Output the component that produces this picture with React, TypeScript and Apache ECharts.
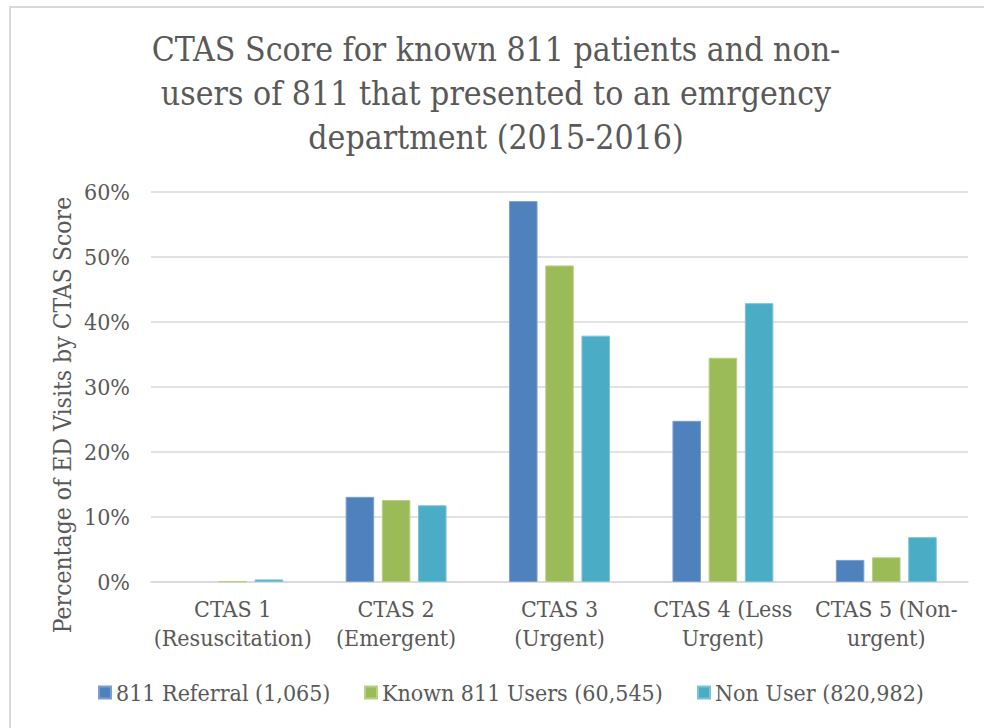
import React, { useEffect, useRef } from "react";
import * as echarts from "echarts";

const categories = [
  "CTAS 1\n(Resuscitation)",
  "CTAS 2\n(Emergent)",
  "CTAS 3\n(Urgent)",
  "CTAS 4 (Less\nUrgent)",
  "CTAS 5 (Non-\nurgent)",
];
const seriesNames = ["811 Referral (1,065)", "Known 811 Users (60,545)", "Non User (820,982)"];
const referral = [0, 13.1, 58.6, 24.8, 3.4];
const knownUsers = [0.1, 12.6, 48.7, 34.5, 3.8];
const nonUsers = [0.4, 11.8, 37.9, 42.9, 6.9];
const colors = ["#4f81bd", "#9bbb59", "#4bacc6"];
const borderColors = ["#7c9fd0", "#b7cf86", "#7cc3d6"];

const FONT = "'DejaVu Serif Condensed', 'Liberation Serif', serif";
const TEXT = "#595959";

export default function App() {
  const ref = useRef<HTMLDivElement>(null);
  useEffect(() => {
    if (!ref.current) return;
    const chart = echarts.init(ref.current, undefined, { renderer: "svg" });
    const dataSets = [referral, knownUsers, nonUsers];
    const legendLefts = [98, 364, 697];
    chart.setOption({
      animation: false,
      backgroundColor: "#ffffff",
      textStyle: { fontFamily: FONT },
      title: {
        text: "CTAS Score for known 811 patients and non-\nusers of 811 that presented to an emrgency\ndepartment (2015-2016)",
        left: 496,
        top: 27,
        textAlign: "center",
        padding: 0,
        textStyle: {
          fontFamily: FONT,
          fontSize: 33.5,
          fontWeight: "normal",
          color: TEXT,
          lineHeight: 44,
        },
      },
      legend: seriesNames.map((n, i) => ({
        data: [n],
        left: legendLefts[i],
        top: 681,
        padding: 0,
        itemWidth: 12,
        itemHeight: 12,
        icon: "rect",
        selectedMode: false,
        textStyle: { fontFamily: FONT, fontSize: 23, color: TEXT },
      })),
      graphic: [
        {
          type: "rect",
          shape: { x: 10, y: 7, width: 1000, height: 800 },
          style: { fill: "none", stroke: "#d9d9d9", lineWidth: 2 },
          silent: true,
        },
        {
          type: "text",
          x: 62,
          y: 415,
          rotation: Math.PI / 2,
          style: {
            text: "Percentage of ED Visits by CTAS Score",
            fontFamily: FONT,
            fontSize: 24.5,
            fill: TEXT,
            align: "center",
            verticalAlign: "middle",
          },
          silent: true,
        },
      ],
      grid: { left: 151, right: 16, top: 192, bottom: 146 },
      xAxis: {
        type: "category",
        data: categories,
        axisTick: { show: false },
        axisLine: { lineStyle: { color: "#d9d9d9", width: 1.5 } },
        axisLabel: {
          color: TEXT,
          fontFamily: FONT,
          fontSize: 23,
          lineHeight: 29,
          margin: 12,
          interval: 0,
        },
      },
      yAxis: {
        type: "value",
        min: 0,
        max: 60,
        interval: 10,
        axisLine: { show: false },
        axisTick: { show: false },
        splitLine: { lineStyle: { color: "#d9d9d9", width: 1.5 } },
        axisLabel: {
          color: TEXT,
          fontFamily: FONT,
          fontSize: 23,
          margin: 21,
          formatter: "{value}%",
        },
      },
      series: seriesNames.map((n, i) => ({
        name: n,
        type: "bar",
        data: dataSets[i].map((v) =>
          v === 0 ? { value: v, itemStyle: { borderWidth: 0 } } : v
        ),
        barWidth: 28.5,
        barGap: "27%",
        itemStyle: { color: colors[i], borderColor: borderColors[i], borderWidth: 1 },
      })),
    });
    return () => chart.dispose();
  }, []);
  return (
    <div
      ref={ref}
      style={{ position: "absolute", left: 0, top: 0, width: 984, height: 728 }}
    />
  );
}
